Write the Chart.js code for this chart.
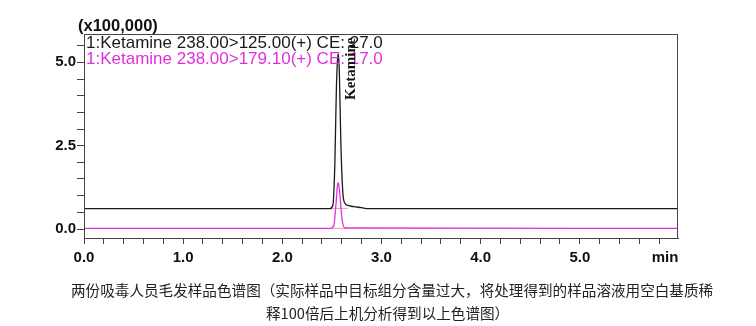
<!DOCTYPE html>
<html>
<head>
<meta charset="utf-8">
<script src="https://cdn.jsdelivr.net/npm/chart.js@4/dist/chart.umd.min.js"></script>
<style>
  html, body { margin: 0; padding: 0; background: #fff; }
  #wrap { width: 756px; height: 326px; }
</style>
</head>
<body>
<div id="wrap"><canvas id="chrom" width="756" height="326"></canvas></div>
<script>
// 数据（单位 x100,000）
const timesMRM1 = [0, 2.48, 2.51, 2.53, 2.545, 2.56, 2.565, 2.575, 2.59, 2.61, 2.63, 2.66, 2.72, 2.80, 2.86, 5.99];
const valuesMRM1 = [0.61, 0.61, 0.72, 2.0, 4.2, 5.2, 5.25, 4.7, 2.6, 1.1, 0.78, 0.71, 0.67, 0.64, 0.61, 0.61];

const timesMRM2 = [0, 2.49, 2.52, 2.54, 2.555, 2.565, 2.58, 2.60, 2.63, 5.99];
const valuesMRM2 = [0.02, 0.02, 0.12, 0.7, 1.28, 1.39, 1.05, 0.35, 0.03, 0.02];

// 积分基线
const baseMRM1 = [[2.49, 0.61], [2.66, 0.62]];
const baseMRM2 = [[2.49, 0.02], [2.64, 0.02]];

const xTicks = [0, 0.2, 0.4, 0.6, 0.8, 1, 1.2, 1.4, 1.6, 1.8, 2, 2.2, 2.4, 2.6, 2.8, 3, 3.2, 3.4, 3.6, 3.8, 4, 4.2, 4.4, 4.6, 4.8, 5, 5.2, 5.4, 5.6, 5.8];
const xLabels = [0, 1, 2, 3, 4, 5];
const yTicks = [0, 0.5, 1, 1.5, 2, 2.5, 3, 3.5, 4, 4.5, 5, 5.5];
const yLabels = [0, 2.5, 5];

const legendLines = [
  { text: '1:Ketamine 238.00>125.00(+) CE: 27.0', color: '#1a1a1a' },
  { text: '1:Ketamine 238.00>179.10(+) CE: 17.0', color: '#e030dc' }
];
const peakName = 'Ketamine';
const peakTime = 2.565;
const captionLines = [
  '两份吸毒人员毛发样品色谱图（实际样品中目标组分含量过大，将处理得到的样品溶液用空白基质稀',
  '释100倍后上机分析得到以上色谱图）'
];

const toXY = (t, v) => t.map((x, i) => ({ x: x, y: v[i] }));

// 外框 + 文字
const decor = {
  id: 'decor',
  afterDraw(chart) {
    const c = chart.ctx;
    const a = chart.chartArea;
    c.save();
    c.strokeStyle = '#444';
    c.lineWidth = 1;
    c.strokeRect(a.left + 0.5, a.top + 0.5, a.right - a.left - 1, a.bottom - a.top);

    c.fillStyle = '#111';
    c.font = 'bold 16.5px "Liberation Sans", Arial, sans-serif';
    c.textBaseline = 'alphabetic';
    c.textAlign = 'left';
    c.fillText('(x100,000)', 78, 31);

    c.font = 'bold 15px "Liberation Sans", Arial, sans-serif';
    c.textAlign = 'center';
    c.fillText('min', 665, 262);

    c.font = '17px "Liberation Sans", Arial, sans-serif';
    c.textAlign = 'left';
    legendLines.forEach((l, i) => {
      c.fillStyle = l.color;
      c.fillText(l.text, a.left + 2, a.top + 14 + i * 16);
    });

    // 峰名（竖排）
    const px = chart.scales.x.getPixelForValue(peakTime);
    c.save();
    c.translate(px + 17, a.top + 66);
    c.rotate(-Math.PI / 2);
    c.fillStyle = '#111';
    c.font = 'bold 15px "Liberation Serif", "Times New Roman", serif';
    c.fillText(peakName, 0, 0);
    c.restore();

    c.fillStyle = '#222';
    c.font = '14.6px "Noto Sans CJK SC", sans-serif';
    c.textBaseline = 'middle';
    c.fillText(captionLines[0], 71, 290);
    c.fillText(captionLines[1], 266, 313);
    c.restore();
  }
};

const lineStyle = { showLine: true, pointRadius: 0, borderWidth: 1.3, cubicInterpolationMode: 'monotone', fill: false };

new Chart(document.getElementById('chrom').getContext('2d'), {
  type: 'scatter',
  data: {
    datasets: [
      Object.assign({ label: 'MRM 238>125', data: toXY(timesMRM1, valuesMRM1), borderColor: '#1a1a1a' }, lineStyle),
      Object.assign({ label: 'MRM 238>179.1', data: toXY(timesMRM2, valuesMRM2), borderColor: '#e030dc', borderWidth: 1.6 }, lineStyle),
      { label: 'base1', data: baseMRM1.map(p => ({ x: p[0], y: p[1] })), showLine: true, pointRadius: 0, borderWidth: 1, borderColor: 'rgba(230,120,120,0.7)' },
      { label: 'base2', data: baseMRM2.map(p => ({ x: p[0], y: p[1] })), showLine: true, pointRadius: 0, borderWidth: 1, borderColor: 'rgba(230,120,120,0.7)' }
    ]
  },
  options: {
    responsive: false,
    animation: false,
    layout: { padding: { top: 34, right: 78, left: 0, bottom: 0 } },
    plugins: { legend: { display: false }, tooltip: { enabled: false } },
    scales: {
      x: {
        type: 'linear',
        min: 0,
        max: 5.99,
        afterBuildTicks: s => { s.ticks = xTicks.map(v => ({ value: v })); },
        afterFit: s => { s.height = 88; },
        grid: { drawOnChartArea: false, tickLength: 6, color: '#444' },
        border: { color: '#444' },
        ticks: {
          autoSkip: false,
          maxRotation: 0,
          padding: 5,
          color: '#111',
          font: { family: '"Liberation Sans", Arial, sans-serif', size: 15, weight: 'bold' },
          callback: v => xLabels.some(l => Math.abs(l - v) < 1e-6) ? v.toFixed(1) : ''
        }
      },
      y: {
        type: 'linear',
        min: -0.27,
        max: 5.85,
        afterBuildTicks: s => { s.ticks = yTicks.map(v => ({ value: v })); },
        afterFit: s => { s.width = 84; },
        grid: { drawOnChartArea: false, tickLength: 7, color: '#444' },
        border: { color: '#444' },
        ticks: {
          autoSkip: false,
          padding: 1,
          color: '#111',
          font: { family: '"Liberation Sans", Arial, sans-serif', size: 15, weight: 'bold' },
          callback: v => yLabels.some(l => Math.abs(l - v) < 1e-6) ? v.toFixed(1) : ''
        }
      }
    }
  },
  plugins: [decor]
});
</script>
</body>
</html>
